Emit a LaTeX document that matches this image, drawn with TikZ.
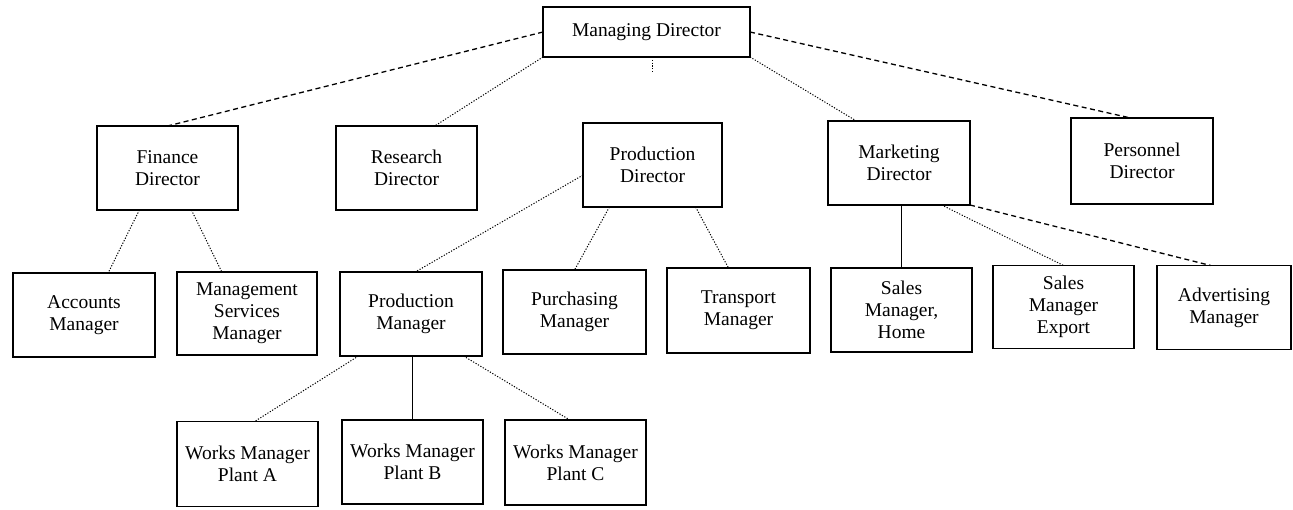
\documentclass[tikz,border=0pt]{standalone}
\usepackage{fontspec}
\setmainfont{Liberation Serif}
\usetikzlibrary{calc}
\tikzset{
  box/.style={draw=black, line width=1.7pt, align=center, inner sep=0pt, outer sep=0pt,
    font=\fontsize{19.5}{22}\selectfont},
  wh/.style 2 args={minimum width=#1pt, minimum height=#2pt},
  dashlink/.style={line width=1.3pt, dash pattern=on 5pt off 3.5pt},
  dotlink/.style={line width=1pt, dash pattern=on 1.2pt off 1.6pt},
  solidlink/.style={line width=1.1pt},
}
\begin{document}
\begin{tikzpicture}[x=1pt,y=-1pt]
\useasboundingbox (0,0) rectangle (1293,509);
% top
\node[box, wh={207}{50}] (md) at (646.5,32) {Managing Director};
% directors
\node[box, wh={141}{84}] (fin) at (167.5,168) {Finance\\Director};
\node[box, wh={141}{84}] (res) at (406.5,168) {Research\\Director};
\node[box, wh={139}{84}] (pd) at (652.5,165) {Production\\Director};
\node[box, wh={142}{84}] (mkt) at (899,163) {Marketing\\Director};
\node[box, wh={142}{86}] (per) at (1142,161) {Personnel\\Director};
% managers
\node[box, wh={142}{84}] (acc) at (84,315) {Accounts\\Manager};
\node[box, wh={140}{83}] (msm) at (247,313.5) {Management\\Services\\Manager};
\node[box, wh={142}{84}] (pm) at (411,314) {Production\\Manager};
\node[box, wh={143}{84}] (pur) at (574.5,312) {Purchasing\\Manager};
\node[box, wh={143}{85}] (tra) at (738.5,310.5) {Transport\\Manager};
\node[box, wh={141}{84}] (sh) at (901.5,310) {Sales\\Manager,\\Home};
\node[box, wh={141}{83}] (se) at (1063.5,307) {Sales\\Manager\\Export};
\node[box, wh={134}{84}] (adv) at (1224,307.5) {Advertising\\Manager};
% works managers
\node[box, wh={141}{85}] (wa) at (247.5,464) {Works Manager\\Plant A};
\node[box, wh={141}{84}] (wb) at (412.5,462) {Works Manager\\Plant B};
\node[box, wh={141}{85}] (wc) at (575.5,462.5) {Works Manager\\Plant C};
% connectors from MD
\draw[dashlink] (md.west) -- (fin.north);
\draw[dotlink] (md.south west) -- ($(res.north west)!0.7!(res.north east)$);
\draw[dotlink] (md.south east) -- ($(mkt.north west)!0.2!(mkt.north east)$);
\draw[dashlink] (md.east) -- ($(per.north west)!0.42!(per.north east)$);
\coordinate (mdstub) at (652,72);
\draw[dotlink] (md.south -| mdstub) -- (mdstub);
% finance
\draw[dotlink] ($(fin.south west)!0.3!(fin.south east)$) -- ($(acc.north west)!0.67!(acc.north east)$);
\draw[dotlink] ($(fin.south west)!0.67!(fin.south east)$) -- ($(msm.north west)!0.32!(msm.north east)$);
% production
\draw[dotlink] ($(pd.north west)!0.62!(pd.south west)$) -- ($(pm.north west)!0.53!(pm.north east)$);
\draw[dotlink] ($(pd.south west)!0.19!(pd.south east)$) -- (pur.north);
\draw[dotlink] ($(pd.south west)!0.81!(pd.south east)$) -- ($(tra.north west)!0.43!(tra.north east)$);
% marketing
\draw[solidlink] (sh.north |- mkt.south) -- (sh.north);
\draw[dotlink] ($(mkt.south west)!0.8!(mkt.south east)$) -- (se.north);
\draw[dashlink] (mkt.south east) -- ($(adv.north west)!0.4!(adv.north east)$);
% production manager
\draw[dotlink] ($(pm.south west)!0.13!(pm.south east)$) -- ($(wa.north west)!0.55!(wa.north east)$);
\draw[solidlink] (wb.north |- pm.south) -- (wb.north);
\draw[dotlink] ($(pm.south west)!0.87!(pm.south east)$) -- ($(wc.north west)!0.46!(wc.north east)$);
\end{tikzpicture}
\end{document}
